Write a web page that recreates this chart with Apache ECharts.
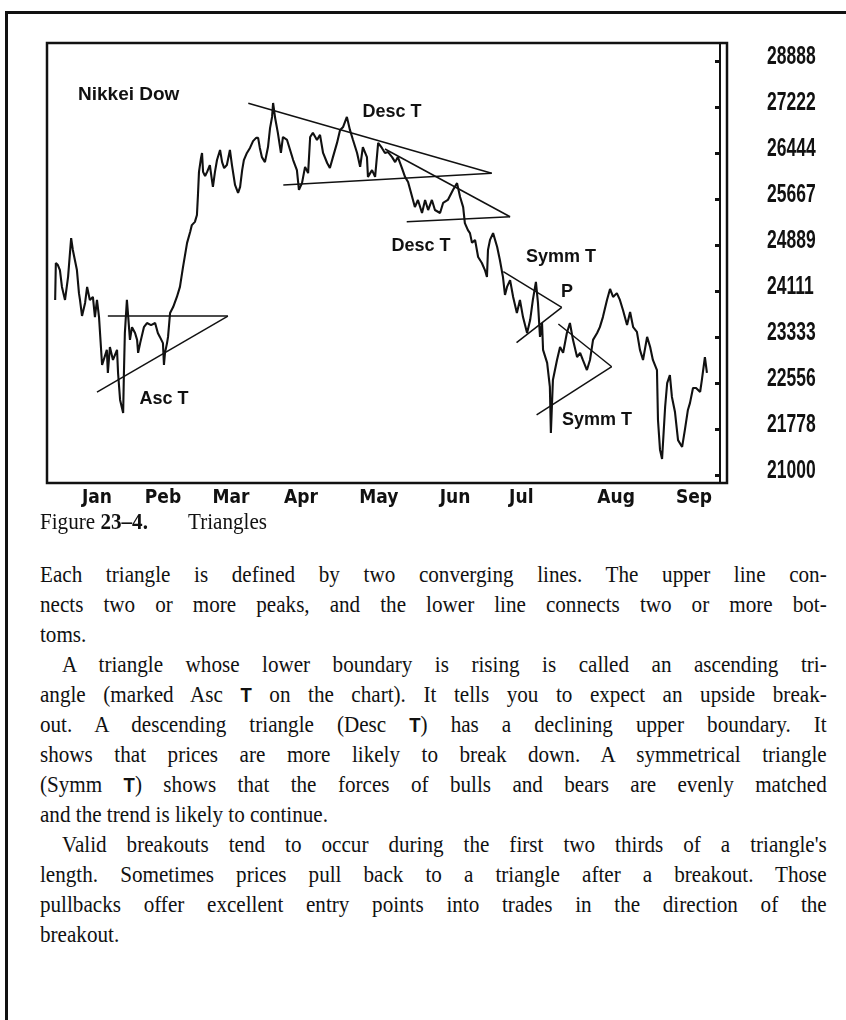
<!DOCTYPE html>
<html>
<head>
<meta charset="utf-8">
<title>Nikkei Dow - Triangles</title>
<script src="https://cdn.jsdelivr.net/npm/echarts@6/dist/echarts.min.js"></script>
<style>
  html, body { margin: 0; padding: 0; background: #fff; }
  #page { position: relative; width: 846px; height: 1020px; overflow: hidden; background: #fff; }
  #frame { position: absolute; left: 5px; top: 11px; right: -10px; bottom: -10px;
           border-left: 3px solid #111; border-top: 3px solid #111; }
  #chart { position: absolute; left: 0; top: 0; width: 846px; height: 520px; }
  .caption { position: absolute; top: 506px; height: 30px; line-height: 30px;
             font-family: 'Liberation Serif', serif; font-size: 24px; color: #111; white-space: nowrap;
             transform: scaleX(0.88); transform-origin: 0 0; }
  #text { position: absolute; left: 40px; top: 559px;
          font-family: 'Liberation Serif', serif; font-size: 24px; line-height: 30px; color: #111; }
  #text div { width: 894px; height: 30px; text-align: justify; text-align-last: justify; white-space: nowrap;
              transform: scaleX(0.88); transform-origin: 0 0; box-sizing: border-box; }
  #text div.last { text-align-last: left; }
  #text div.ind { padding-left: 25px; }
  .t { font-family: 'Liberation Sans', sans-serif; font-weight: bold; font-size: 21px; }
</style>
</head>
<body>
<div id="page">
  <div id="frame"></div>
  <div id="chart"></div>
  <div class="caption" style="left:40px">Figure <b>23–4.</b></div>
  <div class="caption" style="left:188px">Triangles</div>
  <div id="text">
    <div>Each triangle is defined by two converging lines. The upper line con-</div>
    <div>nects two or more peaks, and the lower line connects two or more bot-</div>
    <div class="last">toms.</div>
    <div class="ind">A triangle whose lower boundary is rising is called an ascending tri-</div>
    <div>angle (marked Asc <span class="t">T</span> on the chart). It tells you to expect an upside break-</div>
    <div>out. A descending triangle (Desc <span class="t">T</span>) has a declining upper boundary. It</div>
    <div>shows that prices are more likely to break down. A symmetrical triangle</div>
    <div>(Symm <span class="t">T</span>) shows that the forces of bulls and bears are evenly matched</div>
    <div class="last">and the trend is likely to continue.</div>
    <div class="ind">Valid breakouts tend to occur during the first two thirds of a triangle's</div>
    <div>length. Sometimes prices pull back to a triangle after a breakout. Those</div>
    <div>pullbacks offer excellent entry points into trades in the direction of the</div>
    <div class="last">breakout.</div>
  </div>
</div>
<script>
// x = trading session counted from the left edge of the plot, y = index level
const sessions = [
  2.4, 2.6, 3.2, 3.8, 4.4, 5.3, 6.2, 7.1, 7.6, 8.8, 9.4, 9.7, 10.3, 11.2, 11.8, 12.6, 13.5, 14.1, 14.7, 15.3,
  16.2, 17.6, 17.9, 18.5, 19.4, 20.6, 20.9, 21.5, 22.4, 22.6, 22.9, 23.5, 23.8, 24.4, 25.0, 25.9, 26.5, 26.8, 27.4, 28.5,
  29.4, 30.6, 31.8, 32.6, 33.2, 34.1, 34.4, 34.7, 35.3, 35.6, 36.2, 37.1, 38.2, 39.1, 40.0, 41.2, 42.1, 42.6, 43.5, 44.1,
  44.4, 44.7, 45.3, 45.6, 45.9, 46.5, 47.1, 47.9, 48.5, 48.8, 49.4, 50.0, 50.9, 51.5, 52.1, 52.9, 53.8, 54.4, 55.3, 56.2,
  56.8, 57.4, 57.9, 58.8, 59.7, 60.6, 61.5, 62.1, 62.6, 63.2, 64.1, 65.0, 65.6, 66.2, 66.5, 67.1, 67.9, 68.8, 69.4, 70.6,
  71.5, 72.4, 73.5, 74.1, 75.0, 75.9, 76.8, 77.4, 78.2, 79.4, 80.3, 81.2, 82.4, 83.2, 84.1, 85.3, 86.2, 87.1, 88.2, 89.1,
  90.0, 91.2, 92.1, 92.9, 94.1, 94.4, 95.6, 96.5, 97.4, 98.5, 99.4, 100.3, 101.5, 102.4, 103.2, 104.4, 105.3, 106.2, 107.4, 108.2,
  109.1, 110.3, 111.2, 112.1, 113.2, 114.1, 115.6, 116.5, 117.9, 119.4, 120.6, 121.5, 122.4, 122.9, 123.8, 124.4, 125.0, 125.9, 126.8, 127.9,
  128.8, 129.4, 129.7, 130.3, 131.2, 132.4, 133.2, 134.1, 134.7, 135.3, 136.2, 137.1, 138.2, 139.1, 140.0, 141.2, 142.1, 142.9, 143.8, 144.4,
  145.0, 145.6, 145.9, 147.1, 147.9, 148.2, 148.8, 150.0, 150.9, 151.8, 152.9, 153.8, 154.7, 155.9, 156.8, 157.6, 158.8, 159.7, 160.6, 161.8,
  162.6, 163.5, 164.7, 165.6, 166.5, 167.6, 168.5, 169.4, 170.6, 171.5, 172.4, 173.5, 174.4, 175.3, 176.5, 177.4, 178.2, 179.4, 179.7, 180.3,
  180.9, 181.8, 182.4, 183.2, 183.8, 184.7, 185.6, 186.8, 187.6, 188.5, 189.1, 190.0, 190.9, 192.1, 192.6, 193.5, 194.1
];
const closes = [
  23960, 24585, 24550, 24465, 24180, 23960, 24350, 25005, 24805, 24465, 24075, 23960, 23690, 23910, 24180, 23960, 24010, 23670, 23960, 23670,
  22860, 23115, 22725, 23165, 22945, 23115, 22725, 22270, 22050, 22655, 23400, 23960, 23740, 23285, 23500, 23400, 23285, 23065, 23230, 23500,
  23570, 23535, 23570, 23400, 23335, 23230, 22860, 23065, 23230, 23335, 23740, 23840, 24010, 24180, 24515, 24925, 25110, 25225, 25280, 25395,
  25735, 26125, 26360, 26445, 26125, 26055, 26125, 26240, 25990, 25870, 26125, 26325, 26495, 26290, 26190, 26240, 26495, 26240, 25905, 25770,
  25870, 26155, 26325, 26445, 26530, 26645, 26700, 26700, 26530, 26375, 26290, 26545, 26865, 27055, 27290, 27035, 26785, 26445, 26715, 26665,
  26495, 26325, 26155, 25820, 25935, 26210, 26105, 26715, 26785, 26665, 26750, 26445, 26275, 26190, 26375, 26615, 26835, 26885, 27055, 26835,
  26665, 26445, 26210, 26545, 26375, 26040, 26155, 26040, 26615, 26530, 26445, 26460, 26375, 26290, 26375, 26190, 26040, 25955, 25700, 25530,
  25650, 25430, 25650, 25480, 25650, 25480, 25430, 25600, 25650, 25820, 25935, 25700, 25530, 25260, 25140, 25090, 24925, 24975, 24685, 24585,
  24465, 24350, 24805, 24975, 25090, 24855, 24635, 24350, 24045, 24180, 24295, 24010, 23740, 23960, 23670, 23400, 23620, 23960, 24265, 23910,
  23335, 23570, 23115, 22895, 22490, 21710, 22605, 22945, 23165, 23065, 23400, 23570, 23285, 22995, 23065, 22945, 22775, 22945, 23285, 23400,
  23500, 23670, 23960, 24145, 24010, 24075, 23960, 23790, 23535, 23755, 23500, 23420, 23115, 22945, 23335, 23165, 22945, 22775, 21930, 21425,
  21270, 22150, 22555, 22690, 22320, 22065, 21590, 21475, 21760, 22100, 22215, 22470, 22470, 22405, 22605, 22995, 22725
];

// month labels and the session where each one sits
const months = ['Jan', 'Peb', 'Mar', 'Apr', 'May', 'Jun', 'Jul', 'Aug', 'Sep'];
const monthSessions = [14.7, 34.1, 54.1, 74.7, 97.6, 120.0, 139.5, 167.4, 190.3];

// right-hand scale
const tickValues = [21000, 21778, 22556, 23333, 24111, 24889, 25667, 26444, 27222, 28000];
const tickLabels = ['21000', '21778', '22556', '23333', '24111', '24889', '25667', '26444', '27222', '28888'];

// triangle boundaries, [session, level] end points
const ascT = [[[17.9, 23688], [53.2, 23688]], [[14.7, 22403], [53.2, 23688]]];
const descTUpper = [[[59.2, 27285], [130.8, 26101]], [[69.5, 25903], [130.8, 26101]]];
const descTLower = [[[99.4, 26512], [136.2, 25367]], [[105.8, 25283], [136.2, 25367]]];
const symmTUpper = [[[134.2, 24437], [151.4, 23835]], [[138.1, 23237], [151.4, 23835]]];
const symmTLower = [[[150.4, 23553], [166.1, 22831]], [[144.0, 22015], [166.1, 22831]]];

const ink = '#111';
const narrow = "'Liberation Sans Narrow', 'Arial Narrow', 'DejaVu Sans Condensed', sans-serif";
const annoFont = "bold 18px 'Liberation Sans', Arial, sans-serif";

const chart = echarts.init(document.getElementById('chart'));

const triangleSegs = [].concat(ascT, descTUpper, descTLower, symmTUpper, symmTLower)
  .map(seg => ({ coords: seg }));

function anno(text, x, y, font) {
  return {
    type: 'text', x: x, y: y, silent: true,
    style: { text: text, fill: ink, font: font || annoFont, align: 'center', verticalAlign: 'middle' }
  };
}

const baseGraphics = [
  // outer double frame of the plot (the inner right line is the value axis)
  {
    type: 'rect', silent: true, z: 10,
    shape: { x: 47, y: 43, width: 680, height: 440 },
    style: { fill: 'none', stroke: ink, lineWidth: 2.5 }
  },
  {
    type: 'text', x: 78, y: 95, silent: true,
    style: { text: 'Nikkei Dow', fill: ink, font: "bold 19px 'Liberation Sans', Arial, sans-serif", align: 'left', verticalAlign: 'middle' }
  },
  anno('Desc T', 392, 112),
  anno('Desc T', 421, 246),
  anno('Asc T', 164, 399),
  anno('Symm T', 561, 257),
  anno('P', 567, 292),
  anno('Symm T', 597, 420)
];

chart.setOption({
  animation: false,
  grid: { left: 47, top: 43, width: 673, height: 440, show: false },
  xAxis: {
    type: 'value', min: 0, max: 197.94,
    splitLine: { show: false },
    axisLine: { show: false, onZero: false },
    axisTick: { show: false },
    axisLabel: {
      customValues: monthSessions,
      formatter: v => months[monthSessions.indexOf(v)],
      margin: 6, color: ink, fontSize: 19, fontWeight: 'bold', fontFamily: narrow
    }
  },
  yAxis: {
    type: 'value', position: 'right',
    min: 20865, max: 28304,
    splitLine: { show: false },
    axisLine: { show: true, onZero: false, lineStyle: { color: ink, width: 2 } },
    axisTick: { show: true, inside: true, length: 5, lineStyle: { color: ink, width: 3 }, customValues: tickValues },
    axisLabel: { show: false }
  },
  series: [
    {
      name: 'Nikkei Dow', type: 'line',
      data: sessions.map((s, i) => [s, closes[i]]),
      symbol: 'none', smooth: false,
      lineStyle: { color: ink, width: 2.1 }
    },
    {
      name: 'Triangles', type: 'lines', coordinateSystem: 'cartesian2d',
      data: triangleSegs,
      lineStyle: { color: ink, width: 1.5, opacity: 1 },
      silent: true
    }
  ],
  graphic: baseGraphics
});

// right-hand tick labels: condensed bold figures placed on the axis ticks
const tickTexts = tickValues.map((v, i) => ({
  type: 'text', silent: true,
  x: 767, y: chart.convertToPixel({ yAxisIndex: 0 }, v) - 4,
  scaleX: 0.7,
  style: { text: tickLabels[i], fill: ink, font: "bold 25px 'Liberation Sans', Arial, sans-serif", align: 'left', verticalAlign: 'middle' }
}));

chart.setOption({ graphic: baseGraphics.concat(tickTexts) });
</script>
</body>
</html>
